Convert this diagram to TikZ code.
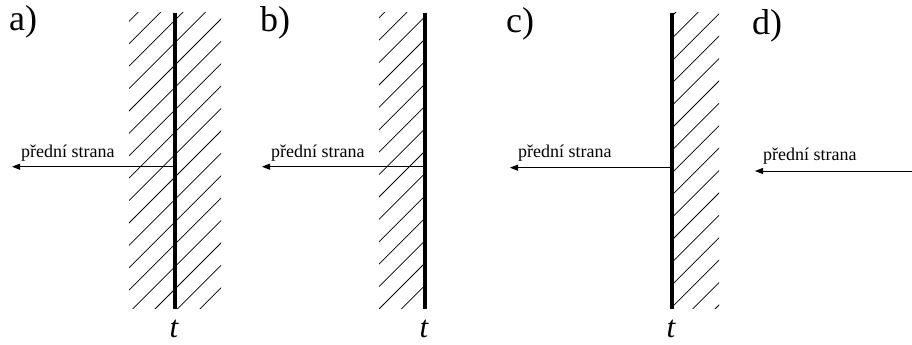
\documentclass[tikz,border=0pt]{standalone}
\usepackage{fontspec}
\setmainfont{Liberation Serif}
\usetikzlibrary{arrows.meta}
\begin{document}
\begin{tikzpicture}[x=1pt,y=-1pt,
  wall/.style={line width=3.3pt},
  hatch/.style={line width=0.75pt},
  arr/.style={line width=1pt,-{Triangle[length=8pt,width=6pt]}},
  lbl/.style={font=\fontsize{18}{20}\selectfont,anchor=base west,inner sep=0pt},
  big/.style={font=\fontsize{36}{40}\selectfont,anchor=base west,inner sep=0pt},
  tlab/.style={font=\fontsize{31}{34}\selectfont\itshape,anchor=base,inner sep=0pt}]
\useasboundingbox[fill=white] (0,0) rectangle (912,345);
% hatching
\newcommand{\hatchbox}[4]{%
  \begin{scope}
    \clip (#1,#2) rectangle (#3,#4);
    \foreach \k in {0,...,52} {
      \draw[hatch] ({16+22.4*\k-340},340) -- ({16+22.4*\k},0);
    }
  \end{scope}}
\hatchbox{129}{13}{221}{308}
\hatchbox{379}{13}{425}{308}
\hatchbox{672}{13}{719}{308}
% walls
\coordinate (wa1) at (175,13); \coordinate (wa2) at (175,309);
\coordinate (wb1) at (425,13); \coordinate (wb2) at (425,309);
\coordinate (wc1) at (672,13); \coordinate (wc2) at (672,309);
\draw[wall] (wa1) -- (wa2);
\draw[wall] (wb1) -- (wb2);
\draw[wall] (wc1) -- (wc2);
% arrows
\coordinate (a0) at (175,166.7); \coordinate (a1) at (12,166.7);
\coordinate (b0) at (425,166.7); \coordinate (b1) at (262,166.7);
\coordinate (c0) at (672,167.7); \coordinate (c1) at (510,167.7);
\coordinate (d0) at (912,171); \coordinate (d1) at (755,171);
\draw[arr] (a0) -- (a1);
\draw[arr] (b0) -- (b1);
\draw[arr] (c0) -- (c1);
\draw[arr] (d0) -- (d1);
% texts
\node[lbl] (ta) at (21,157) {přední strana};
\node[lbl] (tb) at (271,157) {přední strana};
\node[lbl] (tc) at (518,157) {přední strana};
\node[lbl] (td) at (763,160) {přední strana};
\node[big] (la) at (9,31) {a)};
\node[big] (lb) at (260,32) {b)};
\node[big] (lc) at (506,33) {c)};
\node[big] (ld) at (752,35) {d)};
\node[tlab] (tta) at (174,337) {t};
\node[tlab] (ttb) at (424,337) {t};
\node[tlab] (ttc) at (671,337) {t};
\end{tikzpicture}
\end{document}
